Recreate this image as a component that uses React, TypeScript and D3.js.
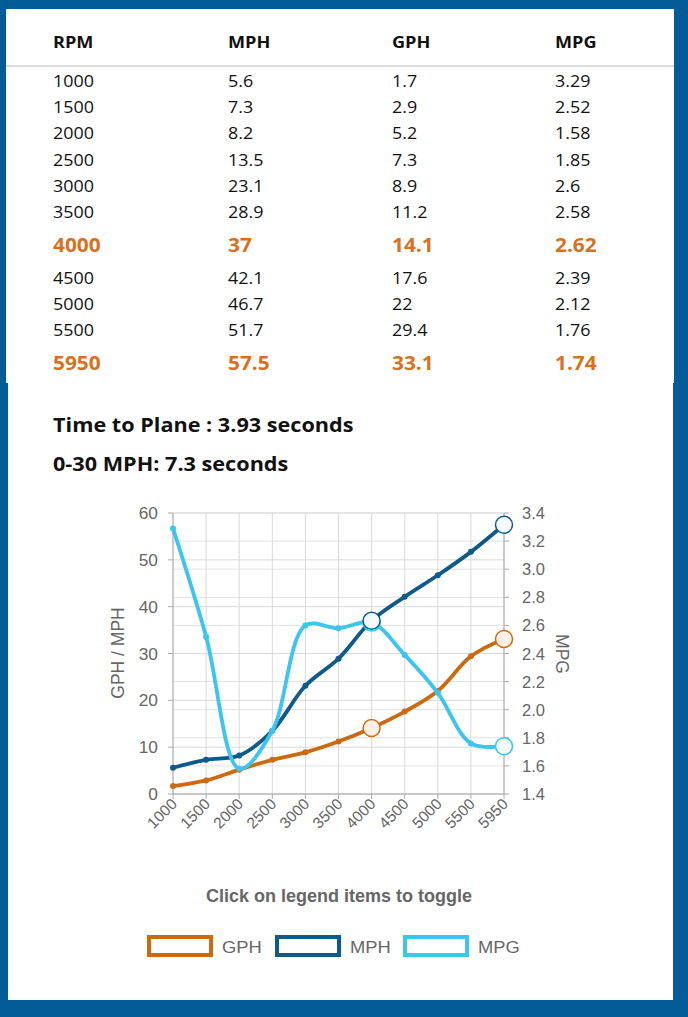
import React from "react";
import * as d3 from "d3";

const rpm = ["1000", "1500", "2000", "2500", "3000", "3500", "4000", "4500", "5000", "5500", "5950"];
const mph = [5.6, 7.3, 8.2, 13.5, 23.1, 28.9, 37, 42.1, 46.7, 51.7, 57.5];
const gph = [1.7, 2.9, 5.2, 7.3, 8.9, 11.2, 14.1, 17.6, 22, 29.4, 33.1];
const mpg = [3.29, 2.52, 1.58, 1.85, 2.6, 2.58, 2.62, 2.39, 2.12, 1.76, 1.74];
const highlighted = ["4000", "5950"];
const tableHeaders = ["RPM", "MPH", "GPH", "MPG"];
const leftTicks = [0, 10, 20, 30, 40, 50, 60];
const rightTicks = [1.4, 1.6, 1.8, 2.0, 2.2, 2.4, 2.6, 2.8, 3.0, 3.2, 3.4];

const BLUE_BG = "#035c97";
const ORANGE_TXT = "#d8711e";
const C_GPH = "#cc6a12";
const C_MPH = "#0e5a8a";
const C_MPG = "#3cc5ef";
const AX = "#666";

function T(props: {
  x: number;
  y: number;
  sx?: number;
  rot?: number;
  children: React.ReactNode;
  [k: string]: any;
}) {
  const { x, y, sx = 1, rot = 0, children, ...rest } = props;
  return (
    <text transform={`translate(${x},${y}) rotate(${rot}) scale(${sx},1)`} {...rest}>
      {children}
    </text>
  );
}

export default function App() {
  const colX = [53, 228, 392, 555];
  let top = 68;
  const rows = rpm.map((r, i) => {
    const hl = highlighted.includes(r);
    const h = hl ? 39.6 : 26.2;
    const c = top + h / 2;
    top += h;
    return { vals: [r, String(mph[i]), String(gph[i]), String(mpg[i])], hl, c };
  });

  const x = d3.scalePoint<string>().domain(rpm).range([173, 504]);
  const yL = d3.scaleLinear().domain([0, 60]).range([794, 513]);
  const yR = d3.scaleLinear().domain([1.4, 3.4]).range([794, 513]);
  const curve = d3.curveCatmullRom.alpha(0.5);

  const lineL = d3.line<number>().x((_, i) => x(rpm[i])!).y((d) => yL(d)).curve(curve);
  const lineR = d3.line<number>().x((_, i) => x(rpm[i])!).y((d) => yR(d)).curve(curve);

  const series = [
    { name: "GPH", data: gph, color: C_GPH, y: yL, line: lineL, fill: "#fdf1e6" },
    { name: "MPH", data: mph, color: C_MPH, y: yL, line: lineL, fill: "#f4fbfe" },
    { name: "MPG", data: mpg, color: C_MPG, y: yR, line: lineR, fill: "#f4fbfe" },
  ];
  const markerOrder = [series[0], series[2], series[1]];

  const axisFont = "'Liberation Sans', Arial, sans-serif";
  const x0 = 173, x1 = 504, yb = 794, yt = 513;

  return (
    <div style={{ position: "absolute", left: 0, top: 0 }}>
      <svg width={688} height={1017} style={{ display: "block" }}>
        <rect x={0} y={0} width={688} height={1017} fill={BLUE_BG} />
        <rect x={6} y={9} width={668} height={374} fill="#fff" />
        <rect x={8} y={382} width={665} height={618} fill="#fff" />
        {/* table */}
        <g fontFamily="'Open Sans', sans-serif">
          {tableHeaders.map((h, j) => (
            <T key={h} x={colX[j]} y={47.5} sx={1.17} fontSize={15.5} fontWeight={700} fill="#111">
              {h}
            </T>
          ))}
          <line x1={6} x2={674} y1={66} y2={66} stroke="#d0d0d0" strokeWidth={1.5} />
          {rows.map((r, i) =>
            r.vals.map((v, j) => (
              <T
                key={i + "-" + j}
                x={colX[j]}
                y={r.c + (r.hl ? 7 : 5.8)}
                sx={r.hl ? 1.07 : 1.12}
                fontSize={r.hl ? 19.5 : 16}
                fontWeight={r.hl ? 700 : 400}
                fill={r.hl ? ORANGE_TXT : "#111"}
              >
                {v}
              </T>
            ))
          )}
          <T x={53} y={432} sx={1.11} fontSize={19.5} fontWeight={700} fill="#111">
            Time to Plane : 3.93 seconds
          </T>
          <T x={53} y={471} sx={1.11} fontSize={19.5} fontWeight={700} fill="#111">
            0-30 MPH: 7.3 seconds
          </T>
        </g>
        {/* chart */}
        <g fontFamily={axisFont}>
          {rightTicks.map((t) => (
            <line key={"gr" + t} x1={x0} x2={x1} y1={yR(t)} y2={yR(t)} stroke="#e2e2e2" strokeWidth={1} />
          ))}
          {leftTicks.map((t) => (
            <line key={"gl" + t} x1={x0} x2={x1} y1={yL(t)} y2={yL(t)} stroke="#d9d9d9" strokeWidth={1} />
          ))}
          {rpm.map((r) => (
            <line key={"gv" + r} x1={x(r)} x2={x(r)} y1={yt} y2={yb} stroke="#d9d9d9" strokeWidth={1} />
          ))}
          <line x1={x0} x2={x0} y1={yt} y2={yb} stroke="#aaa" />
          <line x1={x1} x2={x1} y1={yt} y2={yb} stroke="#aaa" />
          <line x1={x0} x2={x1} y1={yb} y2={yb} stroke="#aaa" />
          {leftTicks.map((t) => (
            <g key={"lt" + t}>
              <line x1={x0 - 5} x2={x0} y1={yL(t)} y2={yL(t)} stroke="#aaa" />
              <T x={x0 - 15} y={yL(t) + 6} sx={1.05} textAnchor="end" fontSize={16.5} fill={AX}>
                {t}
              </T>
            </g>
          ))}
          {rightTicks.map((t) => (
            <g key={"rt" + t}>
              <line x1={x1} x2={x1 + 5} y1={yR(t)} y2={yR(t)} stroke="#aaa" />
              <T x={x1 + 18} y={yR(t) + 6} fontSize={16.5} fill={AX}>
                {t.toFixed(1)}
              </T>
            </g>
          ))}
          {rpm.map((r) => (
            <g key={"xt" + r}>
              <line x1={x(r)} x2={x(r)} y1={yb} y2={yb + 5} stroke="#aaa" />
              <T x={x(r)! + 5} y={yb + 11} rot={-45} textAnchor="end" fontSize={15.5} fill={AX}>
                {r}
              </T>
            </g>
          ))}
          <T x={124} y={653} rot={-90} textAnchor="middle" fontSize={17.5} fill={AX}>
            GPH / MPH
          </T>
          <T x={556} y={654} rot={90} textAnchor="middle" fontSize={17.5} fill={AX}>
            MPG
          </T>
          {series.map((s) => (
            <g key={s.name}>
              <path d={s.line(s.data)!} fill="none" stroke={s.color} strokeWidth={3.8} strokeLinejoin="round" />
              {s.data.map((v, i) => (
                <circle key={i} cx={x(rpm[i])} cy={s.y(v)} r={3} fill={s.color} />
              ))}
            </g>
          ))}
          {markerOrder.map((s) =>
            s.data.map((v, i) =>
              highlighted.includes(rpm[i]) ? (
                <circle
                  key={s.name + "h" + i}
                  cx={x(rpm[i])}
                  cy={s.y(v)}
                  r={8.5}
                  fill={s.fill}
                  stroke={s.color}
                  strokeWidth={1.5}
                />
              ) : null
            )
          )}
          <T x={339} y={902} textAnchor="middle" fontSize={18} fontWeight={700} fill={AX}>
            Click on legend items to toggle
          </T>
          {series.map((s, k) => (
            <g key={"lg" + s.name} transform={`translate(${149 + k * 128},937)`}>
              <rect x={0} y={0} width={62} height={18} fill="#fff" stroke={s.color} strokeWidth={4} />
              <T x={73} y={16} sx={1.08} fontSize={17} fill={AX}>
                {s.name}
              </T>
            </g>
          ))}
        </g>
      </svg>
    </div>
  );
}
